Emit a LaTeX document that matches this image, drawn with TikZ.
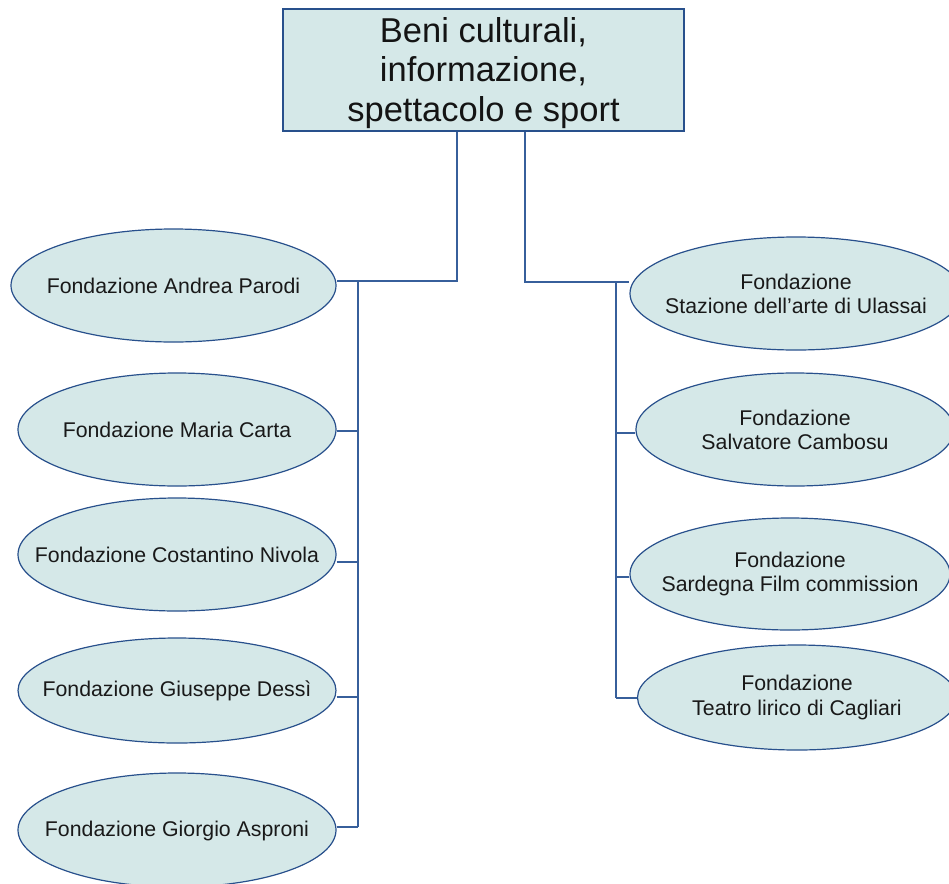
\documentclass[tikz,border=0pt]{standalone}
\usepackage{fontspec}
\setmainfont{Liberation Sans}
\usetikzlibrary{shapes.geometric,calc}
\definecolor{boxfill}{RGB}{213,232,232}
\definecolor{boxline}{RGB}{40,80,140}
\definecolor{conn}{RGB}{55,95,155}
\begin{document}
\begin{tikzpicture}[x=1pt,y=-1pt,
  topbox/.style={draw=boxline,fill=boxfill,line width=1.2pt,minimum width=401pt,minimum height=122pt,inner sep=0pt},
  fnd/.style={ellipse,draw=boxline,fill=boxfill,line width=1.2pt,inner sep=0pt},
  ftxt/.style={align=center,inner sep=0pt,font=\fontsize{21.3}{24.2}\selectfont,text=black!90},
  wire/.style={draw=conn,line width=1.2pt}]
\useasboundingbox (0,0) rectangle (949,883);
\begin{scope}
\clip (0,0) rectangle (949,883);
% top box
\node[topbox] (top) at (483.5,70) {};
\node[align=center,inner sep=0pt,font=\fontsize{34.5}{39.5}\selectfont,text=black!92] (toptxt) at (483.5,73) {Beni culturali,\\informazione,\\spettacolo e sport};
% left ellipses
\node[fnd,minimum width=325pt,minimum height=113pt] (l1) at (173.5,285.5) {};
\node[ftxt] (t1) at (l1) {Fondazione Andrea Parodi};
\node[fnd,minimum width=318pt,minimum height=113pt] (l2) at (177,429.5) {};
\node[ftxt] (t2) at (l2) {Fondazione Maria Carta};
\node[fnd,minimum width=318pt,minimum height=113pt] (l3) at (177,554.5) {};
\node[ftxt] (t3) at (l3) {Fondazione Costantino Nivola};
\node[fnd,minimum width=318pt,minimum height=105pt] (l4) at (177,690.5) {};
\node[ftxt] (t4) at (l4) {Fondazione Giuseppe Dessì};
\node[fnd,minimum width=318pt,minimum height=114pt] (l5) at (177,830) {};
\node[ftxt] (t5) at (177,831) {Fondazione Giorgio Asproni};
% right ellipses
\node[fnd,minimum width=332pt,minimum height=113pt] (r1) at (796,293.5) {};
\node[ftxt] (u1) at (r1) {Fondazione\\Stazione dell’arte di Ulassai};
\node[fnd,minimum width=318pt,minimum height=113pt] (r2) at (795,429.5) {};
\node[ftxt] (u2) at (r2) {Fondazione\\Salvatore Cambosu};
\node[fnd,minimum width=320pt,minimum height=112pt] (r3) at (790,574) {};
\node[ftxt] (u3) at (r3) {Fondazione\\Sardegna Film commission};
\node[fnd,minimum width=319pt,minimum height=105pt] (r4) at (797,697.5) {};
\node[ftxt] (u4) at (r4) {Fondazione\\Teatro lirico di Cagliari};
% connectors
\coordinate (lbus) at (358,0);
\coordinate (rbus) at (616,0);
\coordinate (ldrop) at (457,0);
\coordinate (rdrop) at (525,0);
\draw[wire] (top.south -| ldrop) |- ([yshift=4.5pt]l1.east);
\draw[wire] ([yshift=4.5pt]l1.east -| lbus) -- ([yshift=3pt]l5.east -| lbus);
\draw[wire] ([yshift=-1.5pt]l2.east) -- ([yshift=-1.5pt]l2.east -| lbus);
\draw[wire] ([yshift=-7.5pt]l3.east) -- ([yshift=-7.5pt]l3.east -| lbus);
\draw[wire] ([yshift=-6.5pt]l4.east) -- ([yshift=-6.5pt]l4.east -| lbus);
\draw[wire] ([yshift=3pt]l5.east) -- ([yshift=3pt]l5.east -| lbus);
\draw[wire] (top.south -| rdrop) |- ([yshift=11.5pt]r1.west);
\draw[wire] ([yshift=11.5pt]r1.west -| rbus) -- ([yshift=-0.5pt]r4.west -| rbus);
\draw[wire] ([yshift=-3.5pt]r2.west) -- ([yshift=-3.5pt]r2.west -| rbus);
\draw[wire] ([yshift=-3pt]r3.west) -- ([yshift=-3pt]r3.west -| rbus);
\draw[wire] ([yshift=-0.5pt]r4.west) -- ([yshift=-0.5pt]r4.west -| rbus);
\end{scope}
\end{tikzpicture}
\end{document}
